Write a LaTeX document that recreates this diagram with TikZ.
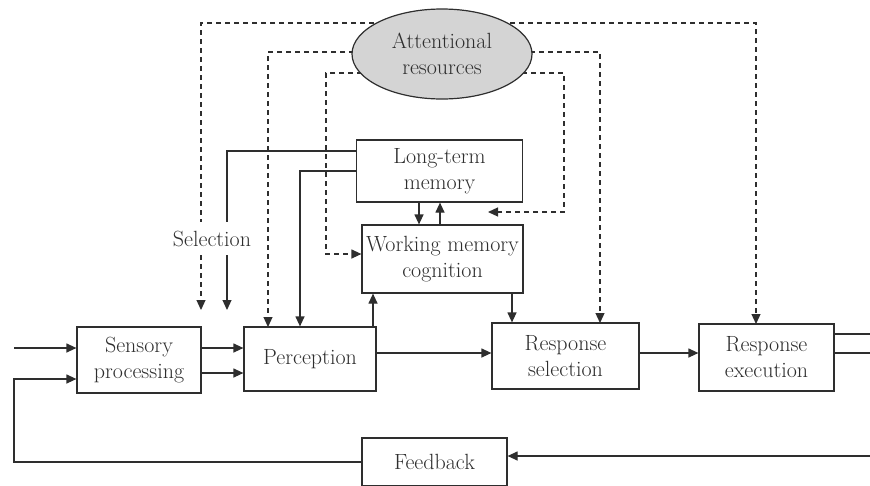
\documentclass[tikz,border=0pt]{standalone}
\usetikzlibrary{arrows.meta,shapes.geometric}
\definecolor{ink}{HTML}{2E2E2E}
\definecolor{cloud}{HTML}{D4D4D4}
\begin{document}
\begin{tikzpicture}[x=1pt,y=-1pt,
  every node/.style={font=\fontsize{22}{26}\selectfont, text=ink, align=center},
  block/.style={draw=ink, line width=1.2pt, fill=white, inner sep=0pt},
  arr/.style={draw=ink, line width=1.2pt, -{Triangle[length=10pt,width=9pt]}},
  line/.style={draw=ink, line width=1.2pt},
  darr/.style={draw=ink, line width=1.2pt, dash pattern=on 5pt off 4pt, -{Triangle[length=10pt,width=9pt]}}]
\clip (0,0) rectangle (870,485);

% processing stages
\node[block, minimum width=124pt, minimum height=66pt] (sens) at (139,360) {Sensory\\processing};
\node[block, minimum width=132pt, minimum height=64pt] (perc) at (310,359) {Perception};
\node[block, minimum width=166pt, minimum height=62pt] (ltm) at (439.5,171) {Long-term\\memory};
\node[block, minimum width=161pt, minimum height=68pt] (wm) at (442.5,259) {Working memory\\cognition};
\node[block, minimum width=147pt, minimum height=66pt] (rsel) at (565.5,356) {Response\\selection};
\node[block, minimum width=135pt, minimum height=67pt] (rexe) at (766.5,357.5) {Response\\execution};
\node[block, minimum width=145pt, minimum height=48pt] (fb) at (434.5,462) {Feedback};

% routing points
\coordinate (in) at (14,348);
\coordinate (loopA) at (14,462);
\coordinate (loopB) at (14,379);
\coordinate (outA) at (870,334);
\coordinate (outB) at (870,353);
\coordinate (fbin) at (870,456);
\coordinate (selDash) at (201,310);
\coordinate (selLine) at (227,310);
\coordinate (wmDashEnd) at (488,212);

% attentional control (dashed), drawn beneath the ellipse
\draw[darr] (442,54) |- (201,23) -- (selDash);
\draw[darr] (442,54) |- (756,23) -- (756,324);
\draw[darr] (442,54) |- (268,52) -- (268,327);
\draw[darr] (442,54) |- (600,52) -- (600,323);
\draw[darr] (442,54) |- (326,73) -- (326,254) -- ([yshift=5pt]wm.west);
\draw[darr] (442,54) |- (564,73) -- (564,212) -- (wmDashEnd);

\node[ellipse, draw=ink, line width=1.2pt, fill=cloud, minimum width=180pt, minimum height=90pt, inner sep=0pt] (attn) at (442,54) {Attentional\\resources};

% main flow
\draw[arr] (in) -- (in -| sens.west);
\draw[arr] (sens.east |- in) -- (perc.west |- in);
\draw[arr] ([yshift=-13pt]sens.east) -- ([yshift=-14pt]perc.west);
\draw[arr] (perc.east |- outB) -- (rsel.west |- outB);
\draw[arr] (rsel.east |- outB) -- (rexe.west |- outB);
\draw[line] (rexe.east |- outA) -- (outA);
\draw[line] (rexe.east |- outB) -- (outB);

% memory links
\draw[arr] ([xshift=-20.5pt]ltm.south) -- ([xshift=-23.5pt]wm.north);
\draw[arr] ([xshift=-2.5pt]wm.north) -- ([xshift=0.5pt]ltm.south);
\draw[arr] ([xshift=63pt]perc.north) -- ([xshift=-69.5pt]wm.south);
\draw[arr] ([xshift=69.5pt]wm.south) -- ([xshift=-53.5pt]rsel.north);
\draw[arr] (ltm.west) -| ([xshift=-10pt]perc.north);
\draw[arr] ([yshift=20pt]ltm.west) -| (selLine);

% feedback loop
\draw[arr] (fbin) -- (fbin -| fb.east);
\draw[arr] (fb.west) -- (loopA) -- (loopB) -- (loopB -| sens.west);

\node[fill=white, inner xsep=2pt, minimum height=33pt] (sel) at (212,238.5) {Selection};
\end{tikzpicture}
\end{document}
